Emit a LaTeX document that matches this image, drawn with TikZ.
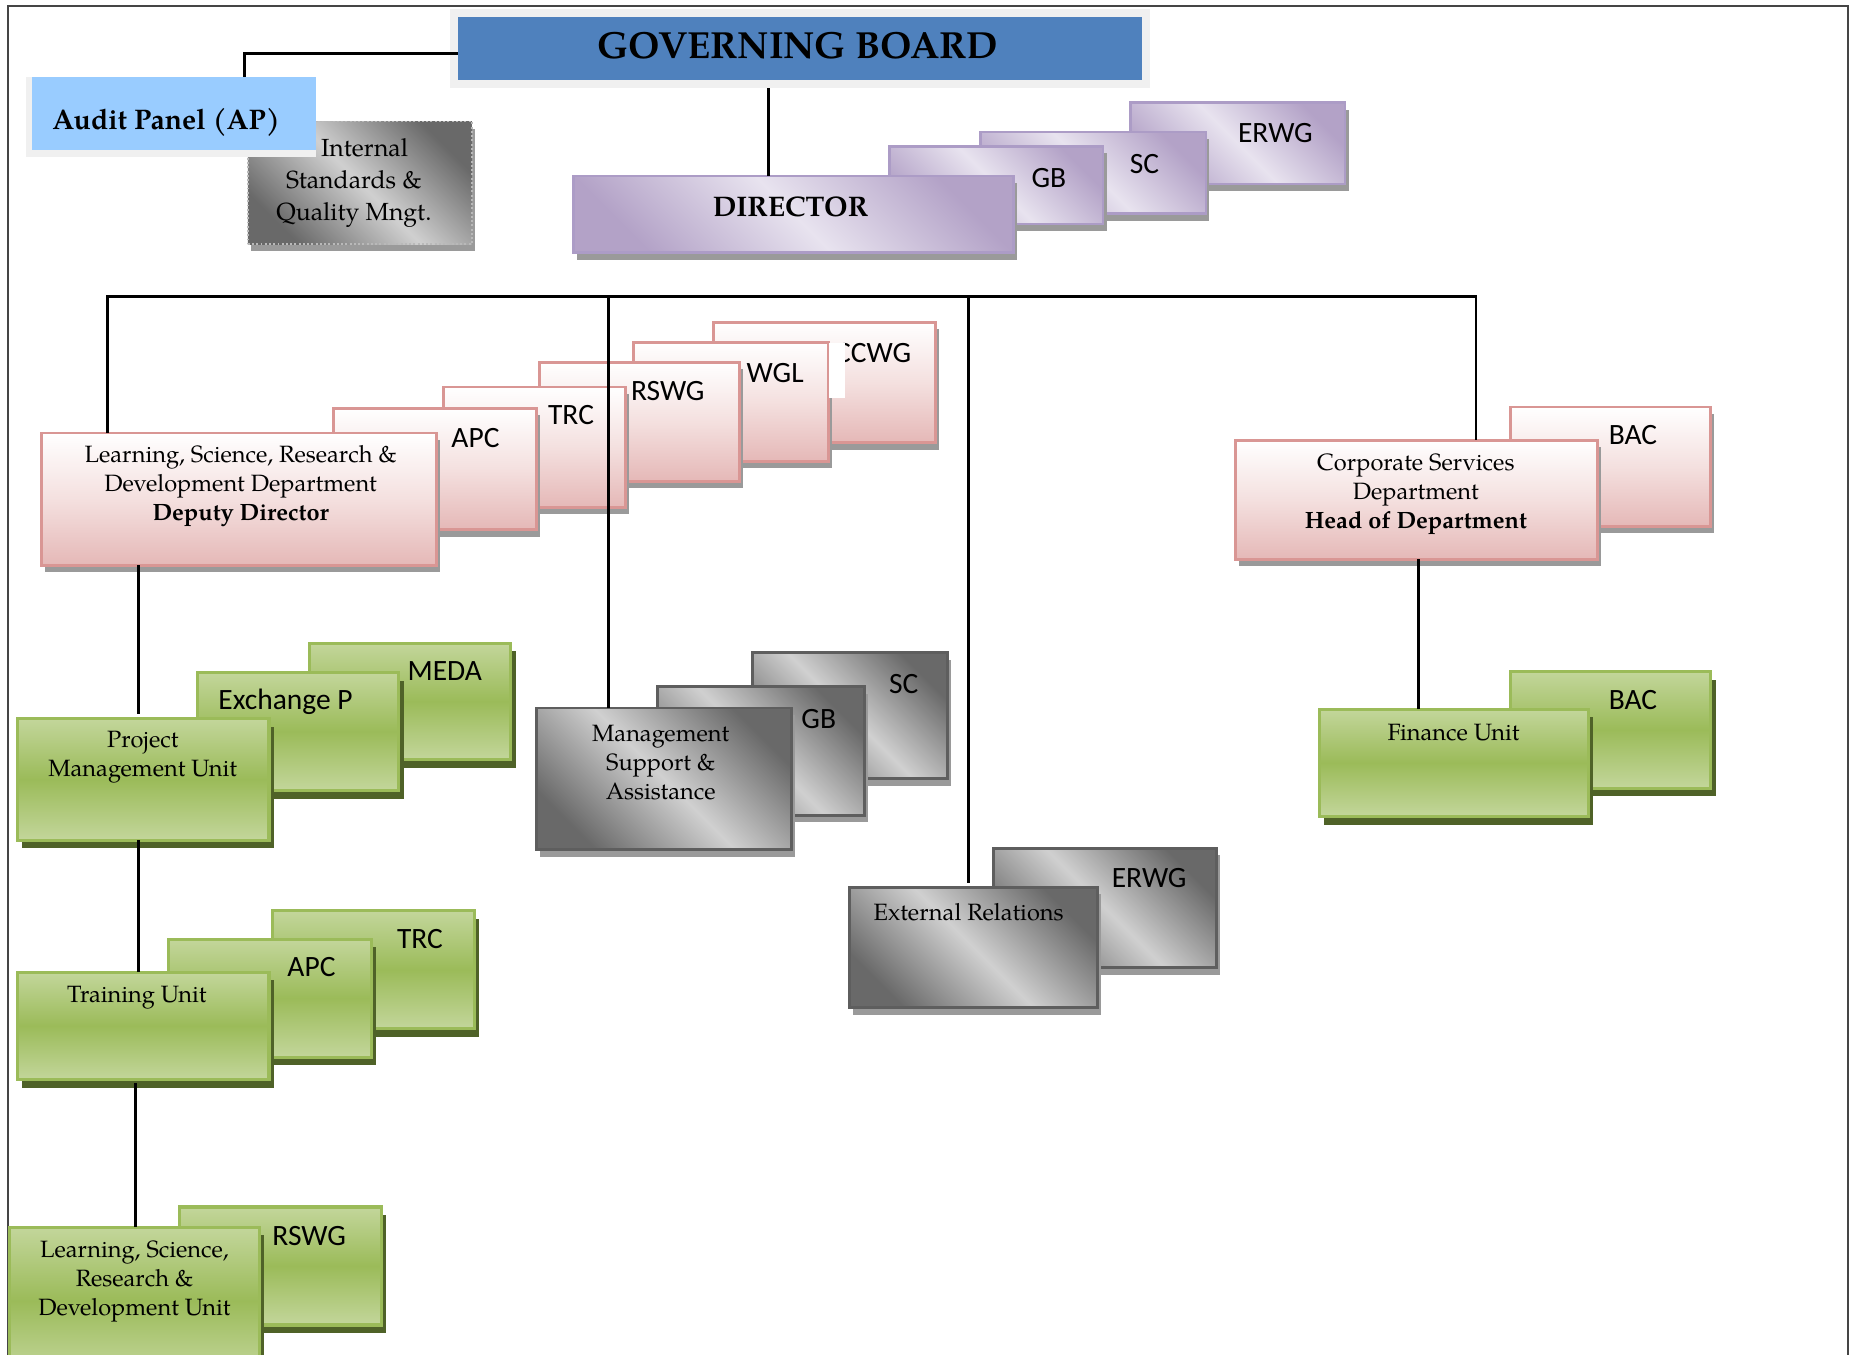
\documentclass[tikz,border=0pt]{standalone}
\usepackage{fontspec}
\setmainfont{texgyrepagella}[Extension=.otf,UprightFont=*-regular,BoldFont=*-bold,ItalicFont=*-italic,BoldItalicFont=*-bolditalic]
\newfontfamily\calib{Carlito}
\usetikzlibrary{shadows,calc}
\definecolor{gbblue}{HTML}{4F81BD}
\definecolor{apblue}{HTML}{99CCFF}
\definecolor{framegrey}{HTML}{F0F0F0}
\definecolor{purD}{HTML}{B3A2C7}
\definecolor{purL}{HTML}{E8E3EF}
\definecolor{purB}{HTML}{AC9CC6}
\definecolor{pinkB}{HTML}{D99694}
\definecolor{pinkD}{HTML}{E5B8B7}
\definecolor{pinkM}{HTML}{F4E0DF}
\definecolor{grnL}{HTML}{C3D69B}
\definecolor{grnM}{HTML}{9BBB59}
\definecolor{grnB}{HTML}{9BBB59}
\definecolor{grnS}{HTML}{4F6228}
\definecolor{greyD}{HTML}{696969}
\definecolor{greyL}{HTML}{D0D0D0}
\definecolor{greyB}{HTML}{5E5E5E}
\definecolor{pageline}{HTML}{454545}
\definecolor{chkgrey}{HTML}{9A9A9A}
\newcommand\Bx[6]{\node[#1, minimum width={(#5-#3)*0.5pt}, minimum height={(#6-#4)*0.5pt}] (#2) at (#3,#4) {};}
\tikzset{
  base/.style={rectangle, inner sep=0pt, outer sep=0pt, anchor=north west},
  chk/.style={drop shadow={shadow xshift=1.5pt, shadow yshift=-3pt, fill=chkgrey, opacity=1}},
  purbox/.style={base, draw=purB, line width=1.1pt, shading=axis, top color=purD, bottom color=purD, middle color=purL, shading angle=-45, chk},
  pinkbox/.style={base, draw=pinkB, line width=1.2pt, shading=axis, top color=white, bottom color=pinkD, middle color=pinkM, chk},
  greybox/.style={base, draw=greyB, line width=1.2pt, shading=axis, top color=greyD, bottom color=greyD, middle color=greyL, shading angle=-45, chk},
  intbox/.style={base, draw=gray!55, densely dotted, line width=0.8pt, shading=axis, top color=greyD, bottom color=greyD, middle color=greyL, shading angle=-45, chk},
  grnbox/.style={base, draw=grnB, line width=1.3pt, shading=axis, top color=grnL, bottom color=grnL, middle color=grnM, drop shadow={shadow xshift=2pt, shadow yshift=-3.5pt, fill=grnS, opacity=1}},
  gbframe/.style={base, fill=framegrey},
  gbstyle/.style={base, fill=gbblue},
  apstyle/.style={base, fill=apblue},
  patch/.style={base, fill=white},
  conn/.style={line width=1.25pt, black},
  lbl/.style={font=\calib\fontsize{12.5}{15}\selectfont, inner sep=0pt},
  ser/.style={font=\fontsize{10}{12.25}\selectfont, align=center, inner sep=0pt},
}
\begin{document}
\begin{tikzpicture}[x=0.5pt,y=-0.5pt]
\useasboundingbox (0,0) rectangle (1568,1148);
\draw[pageline, line width=0.9pt] (7,1160) -- (7,5) -- (1566.5,5) -- (1566.5,1160);

% Governing board
\Bx{gbframe}{gbf}{381}{8}{975}{75}
\Bx{gbstyle}{gb}{388}{14}{968}{68}
\node[inner sep=0pt, font=\bfseries\fontsize{16}{19}\selectfont] (tgb) at (676,39) {GOVERNING BOARD};

% Internal standards and audit panel
\Bx{intbox}{ism}{210}{103}{400}{207}
\node[inner sep=0pt, align=center, font=\fontsize{10.5}{13.5}\selectfont] (tism) at (300,155) {\hspace*{9pt}Internal\\Standards \&\\Quality Mngt.};
\Bx{gbframe}{apf}{22}{65}{268}{133}
\Bx{apstyle}{ap}{27}{65}{268}{127}
\node[inner sep=0pt, anchor=west, font=\bfseries\fontsize{12}{14}\selectfont] (tap) at (44,104) {Audit Panel (AP)};
\coordinate (apj) at (207,45);
\draw[conn] (gb.west |- apj) -- (apj) -- (apj |- ap.north);

% Director stack
\Bx{purbox}{perwg}{958}{87}{1140}{156}
\node[lbl] (tperwg) at (1081,113) {ERWG};
\Bx{purbox}{psc}{831}{112}{1022}{181}
\node[lbl] (tpsc) at (970,139) {SC};
\Bx{purbox}{pgb}{754}{124}{935}{190}
\node[lbl] (tpgb) at (889,151) {GB};
\Bx{purbox}{dir}{486}{149}{859}{214}
\node[inner sep=0pt, font=\bfseries\fontsize{12}{14}\selectfont] (tdir) at (670,175) {DIRECTOR};
\coordinate (dj) at (651,0);
\draw[conn] (gbf.south -| dj) -- (dir.north -| dj);

% Learning, Science, Research & Development Department stack
\Bx{pinkbox}{kccwg}{605}{273}{793}{375}
\node[lbl] (tkccwg) at (740,299) {CCWG};
\Bx{pinkbox}{kwgl}{537}{290}{702}{391}
\node[lbl] (tkwgl) at (657,316) {WGL};
\Bx{patch}{wpatch}{702.5}{291}{716}{337}
\Bx{pinkbox}{krswg}{457}{307}{627}{408}
\node[lbl] (tkrswg) at (566,331) {RSWG};
\Bx{pinkbox}{ktrc}{376}{328}{530}{430}
\node[lbl] (tktrc) at (484,352) {TRC};
\Bx{pinkbox}{kapc}{283}{346}{455}{449}
\node[lbl] (tkapc) at (403,371) {APC};
\Bx{pinkbox}{lsrd}{35}{367}{370}{479}
\node[ser] (tlsrd) at (204,412) {Learning, Science, Research \&\\Development Department\\\textbf{Deputy Director}};

% Corporate services
\Bx{pinkbox}{cbac}{1280}{345}{1450}{446}
\node[lbl] (tcbac) at (1384,369) {BAC};
\Bx{pinkbox}{csd}{1047}{373}{1354}{474}
\node[ser] (tcsd) at (1200,419) {Corporate Services\\Department\\\textbf{Head of Department}};

% Bus
\coordinate (busL) at (91,251);
\coordinate (busR) at (1251,251);
\coordinate (busM1) at (516,251);
\coordinate (busM2) at (821,251);
\draw[conn] (lsrd.north -| busL) -- (busL) -- (busR) -- (csd.north -| busR);

% Management support stack
\Bx{greybox}{gsc}{638}{553}{803}{660}
\node[lbl] (tgsc) at (766,580) {SC};
\Bx{greybox}{ggb}{557}{582}{733}{691}
\node[lbl] (tggb) at (694,609) {GB};
\Bx{greybox}{msa}{455}{600}{671}{720}
\node[ser] (tmsa) at (560,646) {Management\\Support \&\\Assistance};
\draw[conn] (busM1) -- (msa.north -| busM1);

% External relations stack
\Bx{greybox}{gerwg}{842}{719}{1031}{820}
\node[lbl] (tgerwg) at (974,744) {ERWG};
\Bx{greybox}{er}{720}{752}{930}{854}
\node[ser] (ter) at (821,773) {External Relations};
\draw[conn] (busM2) -- ($(er.north -| busM2)+(0,-4)$);

% Finance
\Bx{grnbox}{fbac}{1280}{569}{1450}{668}
\node[lbl] (tfbac) at (1384,593) {BAC};
\Bx{grnbox}{fu}{1118}{601}{1346}{692}
\node[ser] (tfu) at (1232,621) {Finance Unit};
\coordinate (fj) at (1202,0);
\draw[conn] (csd.south -| fj) -- (fu.north -| fj);

% Project management unit
\Bx{grnbox}{gmeda}{262}{545}{433}{644}
\node[lbl] (tgmeda) at (377,569) {MEDA};
\Bx{grnbox}{gexp}{167}{570}{338}{670}
\node[lbl] (tgexp) at (242,595) {Exchange P};
\Bx{grnbox}{pmu}{15}{609}{228}{712}
\node[ser] (tpmu) at (121,642) {Project\\Management Unit};
\coordinate (lj) at (117,0);
\draw[conn] (lsrd.south -| lj) -- ($(pmu.north -| lj)+(0,-4)$);

% Training unit
\Bx{grnbox}{gtrc}{231}{772}{402}{872}
\node[lbl] (tgtrc) at (356,796) {TRC};
\Bx{grnbox}{gapc}{143}{796}{315}{896}
\node[lbl] (tgapc) at (264,820) {APC};
\Bx{grnbox}{tu}{15}{824}{228}{915}
\node[ser] (ttu) at (116,846) {Training Unit};
\draw[conn] (pmu.south -| lj) -- (tu.north -| lj);

% LSRD unit
\Bx{grnbox}{grswg}{152}{1023}{323}{1123}
\node[lbl] (tgrswg) at (262,1048) {RSWG};
\Bx{grnbox}{lsru}{8}{1040}{220}{1165}
\node[ser] (tlsru) at (114,1086) {Learning, Science,\\Research \&\\Development Unit};
\coordinate (uj) at (115,0);
\draw[conn] ($(tu.south -| uj)+(0,3)$) -- (lsru.north -| uj);
\end{tikzpicture}
\end{document}
